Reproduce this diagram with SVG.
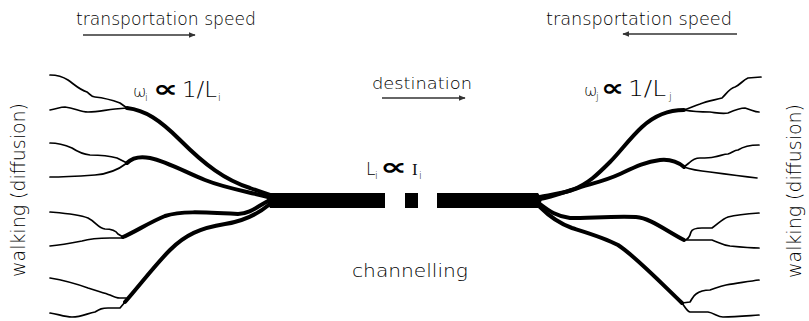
<svg xmlns="http://www.w3.org/2000/svg" width="809" height="321" viewBox="0 0 809 321">
<style>
.t{font-family:"DejaVu Sans","Liberation Sans",sans-serif;font-weight:200;fill:#000}
.thin{fill:none;stroke:#000;stroke-width:1.7;stroke-linecap:round;stroke-linejoin:round}
.thick{fill:none;stroke:#000;stroke-width:4;stroke-linecap:round;stroke-linejoin:round}
.arr{stroke:#333;stroke-width:1.5;fill:none}
.bar{fill:#000}
</style>
<defs>
<marker id="ah" viewBox="0 0 10 8" refX="9" refY="4" markerWidth="7" markerHeight="5.6" orient="auto" markerUnits="userSpaceOnUse">
<path d="M0,0 L10,4 L0,8 Z" fill="#333"/>
</marker>
</defs>
<rect width="809" height="321" fill="#fff"/>

<g id="labels">
<text class="t" x="76" y="25" font-size="17" textLength="180" lengthAdjust="spacingAndGlyphs">transportation speed</text>
<text class="t" x="546" y="25" font-size="17" textLength="186" lengthAdjust="spacingAndGlyphs">transportation speed</text>
<text class="t" x="372" y="89" font-size="16" textLength="100" lengthAdjust="spacingAndGlyphs">destination</text>
<text class="t" x="352" y="277" font-size="18" textLength="116" lengthAdjust="spacingAndGlyphs">channelling</text>
<text class="t" transform="translate(25,277) rotate(-90)" font-size="20" textLength="174" lengthAdjust="spacingAndGlyphs">walking (diffusion)</text>
<text class="t" transform="translate(801,278) rotate(-90)" font-size="20" textLength="174" lengthAdjust="spacingAndGlyphs">walking (diffusion)</text>
</g>

<g id="formula-left">
<text class="t" x="133" y="97" font-size="16">ω</text>
<text class="t" x="145" y="101" font-size="10">i</text>
<text x="153" y="97" font-size="24" font-weight="bold" textLength="25" lengthAdjust="spacingAndGlyphs" font-family="DejaVu Sans" fill="#000">∝</text>
<text class="t" x="182" y="97" font-size="22" textLength="35" lengthAdjust="spacingAndGlyphs">1/L</text>
<text class="t" x="218" y="101" font-size="10">i</text>
</g>

<g id="formula-right">
<text class="t" x="584" y="96" font-size="16">ω</text>
<text class="t" x="596" y="100" font-size="10">j</text>
<text x="601" y="96" font-size="24" font-weight="bold" textLength="23" lengthAdjust="spacingAndGlyphs" font-family="DejaVu Sans" fill="#000">∝</text>
<text class="t" x="628" y="96" font-size="22" textLength="38" lengthAdjust="spacingAndGlyphs">1/L</text>
<text class="t" x="669" y="100" font-size="10">j</text>
</g>

<g id="formula-center">
<text class="t" x="366" y="175" font-size="17">L</text>
<text class="t" x="375" y="179" font-size="10">i</text>
<text x="380" y="175" font-size="24" font-weight="bold" textLength="27" lengthAdjust="spacingAndGlyphs" font-family="DejaVu Sans" fill="#000">∝</text>
<text x="412" y="175" font-size="17" font-family="Liberation Serif,serif" fill="#111">I</text>
<text class="t" x="419" y="179" font-size="10">i</text>
</g>

<g id="connectors">
<line class="arr" x1="83" y1="35" x2="195" y2="35" marker-end="url(#ah)"/>
<line class="arr" x1="737" y1="34" x2="623" y2="34" marker-end="url(#ah)"/>
<line class="arr" x1="382" y1="98" x2="465" y2="98" marker-end="url(#ah)"/>
</g>

<g id="channel">
<path class="bar" d="M270,193 L385,193 L385,208 L270,208 Q264,200.5 270,193 Z"/>
<rect class="bar" x="405" y="193" width="13" height="15"/>
<path class="bar" d="M437,193 L538,193 Q545,200.5 538,208 L437,208 Z"/>
</g>

<g id="left-network">
<path class="thick" d="M127,108 C145,110 160,120 180,140 C205,165 225,180 250,188 C258,191 264,193 270,195"/>
<path class="thick" d="M127,163 C132,158 140,156 150,158 C168,162 185,172 205,180 C225,188 245,191 268,197"/>
<path class="thick" d="M123,237 C135,232 150,222 165,216 C180,211 200,212 238,214 C250,214 258,206 268,201"/>
<path class="thick" d="M125,302 C140,285 155,265 170,250 C185,235 200,228 225,224 C245,221 258,214 270,204"/>
<path class="thin" d="M50,75 C58,75 62,76 68,80 C75,85 80,90 87,92 C90,94 91,97 95,97 C105,98 112,100 120,103 L127,108"/>
<path class="thin" d="M50,110 C57,109 60,107 65,107 C75,108 80,112 88,112 C98,112 105,110 115,109 L127,108"/>
<path class="thin" d="M50,143 C58,143 65,145 72,148 C78,152 82,154 90,155 C100,155 110,156 117,158 L127,163"/>
<path class="thin" d="M50,177 C65,177 80,176 95,175 C108,174 118,170 127,163"/>
<path class="thin" d="M50,212 C62,213 78,214 88,218 C96,222 98,228 105,229 C112,229 116,231 118,234 L123,237"/>
<path class="thin" d="M50,246 C62,245 72,243 82,241 C92,238 100,238 110,238 L123,238"/>
<path class="thin" d="M50,278 C62,280 77,284 88,288 C97,291 105,293 110,295 C114,297 116,298 120,298 L126,298"/>
<path class="thin" d="M50,313 C58,314 64,317 72,317 C82,317 88,313 95,312 C100,309 102,308 108,308 L120,308 L125,302"/>
</g>

<g id="right-network">
<path class="thick" d="M684,110 C670,110 655,115 642,127 C630,138 620,152 610,162 C598,174 588,184 572,190 C560,194 550,195 540,197"/>
<path class="thick" d="M684,167 C678,162 670,159 660,160 C645,162 635,167 620,174 C605,181 590,184 575,189 C562,193 552,197 540,199"/>
<path class="thick" d="M540,204 C548,210 555,216 570,218 C590,218 615,216 636,217 C650,218 665,230 684,240"/>
<path class="thick" d="M540,207 C548,215 558,223 572,228 C588,233 605,238 618,245 C635,256 660,282 682,303"/>
<path class="thin" d="M684,110 C690,108 694,106 700,104 C708,101 715,100 722,98 C727,93 730,88 735,87 C740,85 743,80 748,78 L761,77"/>
<path class="thin" d="M684,110 C695,112 702,112 710,112 C718,113 722,114 728,113 C735,110 740,108 745,108 C752,110 755,112 759,112"/>
<path class="thin" d="M684,167 L689,163 C692,160 695,158 700,158 C706,158 710,158 714,157 C720,156 724,154 728,154 C732,153 734,150 738,150 C744,146 750,145 759,145"/>
<path class="thin" d="M684,167 C692,170 700,171 710,172 C725,174 740,176 757,178"/>
<path class="thin" d="M684,240 C688,240 690,236 691,232 C692,229 696,228 702,228 L712,228 C718,224 722,219 728,217 C736,215 745,214 759,213"/>
<path class="thin" d="M684,240 L712,240 C718,242 722,245 730,246 C740,247 750,248 759,248"/>
<path class="thin" d="M682,303 L690,302 C692,299 693,296 696,294 C700,291 705,290 710,290 C716,288 720,286 726,285 C740,283 750,281 759,280"/>
<path class="thin" d="M682,303 C685,307 687,311 690,312 L708,312 C714,313 718,317 723,317 C735,317 745,316 759,315"/>
</g>
</svg>
